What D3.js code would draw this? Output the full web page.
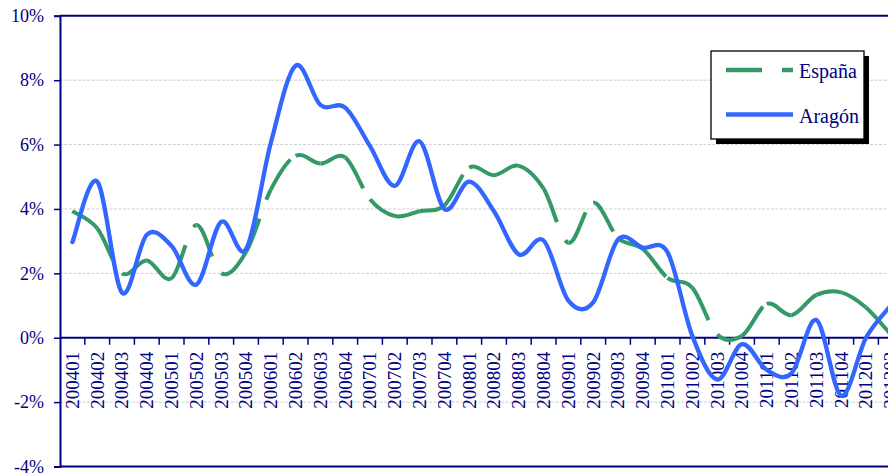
<!DOCTYPE html>
<html>
<head>
<meta charset="utf-8">
<script src="https://cdn.jsdelivr.net/npm/d3@7/dist/d3.min.js"></script>
<style>
  html, body { margin: 0; padding: 0; background: #fff; }
  svg { display: block; }
  text { font-family: "Liberation Serif", "Times New Roman", serif; fill: #000080; }
</style>
</head>
<body>
<svg id="chart" width="888" height="474"></svg>
<script>
// Quarterly periods (yyyyqq)
const periods = [
  "200401","200402","200403","200404",
  "200501","200502","200503","200504",
  "200601","200602","200603","200604",
  "200701","200702","200703","200704",
  "200801","200802","200803","200804",
  "200901","200902","200903","200904",
  "201001","201002","201003","201004",
  "201101","201102","201103","201104",
  "201201","201202"
];

// Year-on-year rates, %
const espana = [
  3.93, 3.4, 2.0, 2.4, 1.85, 3.5, 2.0, 2.66,
  4.6, 5.65, 5.41, 5.6, 4.3, 3.78, 3.93, 4.11,
  5.28, 5.05, 5.34, 4.63, 2.95, 4.2, 3.1, 2.76,
  1.86, 1.55, 0.1, 0.06, 1.05, 0.7, 1.33, 1.41,
  0.94, 0.1
];
const aragon = [
  2.97, 4.85, 1.4, 3.2, 2.85, 1.65, 3.6, 2.75,
  6.05, 8.45, 7.23, 7.15, 5.95, 4.72, 6.1, 4.0,
  4.85, 3.93, 2.59, 3.02, 1.15, 1.1, 3.05, 2.8,
  2.65, 0.05, -1.3, -0.2, -1.0, -1.1, 0.55, -1.8,
  0.0, 1.0
];

const yTicks = [-4, -2, 0, 2, 4, 6, 8, 10];
const gridTicks = [-2, 2, 4, 6, 8];

const seriesNames = ["España", "Aragón"];
const seriesColors = ["#339966", "#3366ff"];

const svg = d3.select("#chart");

const plotLeft = 60, plotTop = 15.8, plotBottom = 466.5;
const band = 24.8;
const plotRight = plotLeft + band * periods.length;

const x = d3.scaleBand().domain(periods).range([plotLeft, plotRight]).paddingInner(0).paddingOuter(0);
const y = d3.scaleLinear().domain([-4, 10]).range([plotBottom, plotTop]);
const cx = p => x(p) + x.bandwidth() / 2;

const navy = "#000080";

// horizontal gridlines
svg.append("g")
  .selectAll("line")
  .data(gridTicks)
  .join("line")
  .attr("x1", plotLeft).attr("x2", plotRight)
  .attr("y1", d => y(d)).attr("y2", d => y(d))
  .attr("stroke", "#cfcfcf")
  .attr("stroke-width", 1)
  .attr("stroke-dasharray", "3,1.5");

// frame top and bottom
svg.append("line").attr("x1", plotLeft).attr("x2", plotRight)
  .attr("y1", y(10)).attr("y2", y(10)).attr("stroke", navy).attr("stroke-width", 2);
svg.append("line").attr("x1", plotLeft).attr("x2", plotRight)
  .attr("y1", y(-4)).attr("y2", y(-4)).attr("stroke", navy).attr("stroke-width", 2);

// y axis
const yAxis = d3.axisLeft(y)
  .tickValues(yTicks)
  .tickSize(6)
  .tickPadding(10)
  .tickFormat(d => d + "%");
const gy = svg.append("g").attr("transform", `translate(${plotLeft},0)`).call(yAxis);
gy.select(".domain").attr("stroke", navy).attr("stroke-width", 2);
gy.selectAll(".tick line").attr("stroke", navy).attr("stroke-width", 1.5);
gy.selectAll(".tick text")
  .attr("fill", navy)
  .style("font-size", "18px")
  .style("font-family", "'Liberation Serif', serif");

// x axis along the zero line
const xAxis = d3.axisBottom(x).tickSize(0).tickPadding(0);
const gx = svg.append("g").attr("transform", `translate(0,${y(0)})`).call(xAxis);
gx.select(".domain").remove();
gx.selectAll(".tick text")
  .attr("fill", navy)
  .attr("transform", "rotate(-90)")
  .attr("text-anchor", "end")
  .attr("x", -14)
  .attr("y", 0)
  .attr("dy", "0.34em")
  .style("font-size", "19px")
  .style("font-family", "'Liberation Serif', serif");

svg.append("line").attr("x1", plotLeft).attr("x2", plotRight)
  .attr("y1", y(0)).attr("y2", y(0)).attr("stroke", navy).attr("stroke-width", 2);

// category boundary ticks
const bounds = periods.map(p => x(p)).concat([plotRight]).slice(1);
svg.append("g")
  .selectAll("line")
  .data(bounds)
  .join("line")
  .attr("x1", d => d).attr("x2", d => d)
  .attr("y1", y(0)).attr("y2", y(0) + 7)
  .attr("stroke", navy).attr("stroke-width", 1.5);

// smoothed segments (uniform Catmull-Rom), one path per interval
function segments(values) {
  const pts = values.map((v, i) => [cx(periods[i]), y(v)]);
  const n = pts.length;
  const out = [];
  for (let i = 0; i < n - 1; i++) {
    const p0 = pts[Math.max(i - 1, 0)];
    const p1 = pts[i];
    const p2 = pts[i + 1];
    const p3 = pts[Math.min(i + 2, n - 1)];
    const c1 = [p1[0] + (p2[0] - p0[0]) / 6, p1[1] + (p2[1] - p0[1]) / 6];
    const c2 = [p2[0] - (p3[0] - p1[0]) / 6, p2[1] - (p3[1] - p1[1]) / 6];
    const path = d3.path();
    path.moveTo(p1[0], p1[1]);
    path.bezierCurveTo(c1[0], c1[1], c2[0], c2[1], p2[0], p2[1]);
    out.push(path.toString());
  }
  return out;
}

const plot = svg.append("g");

// España: long-dash pattern restarting at each data point
plot.append("g")
  .selectAll("path")
  .data(segments(espana))
  .join("path")
  .attr("d", d => d)
  .attr("fill", "none")
  .attr("stroke", seriesColors[0])
  .attr("stroke-width", 4)
  .attr("stroke-dasharray", "36,20")
  .attr("stroke-linecap", "butt");

// Aragón: solid
plot.append("path")
  .attr("d", segments(aragon).join(" "))
  .attr("fill", "none")
  .attr("stroke", seriesColors[1])
  .attr("stroke-width", 4.3)
  .attr("stroke-linecap", "round")
  .attr("stroke-linejoin", "round");

// legend
const lg = svg.append("g");
lg.append("rect").attr("x", 716).attr("y", 56).attr("width", 153).attr("height", 88).attr("fill", "#000");
lg.append("rect").attr("x", 711).attr("y", 51).attr("width", 153).attr("height", 88)
  .attr("fill", "#fff").attr("stroke", "#000").attr("stroke-width", 1.3);

const legendRows = [
  { name: seriesNames[0], color: seriesColors[0], dash: "36,20", ly: 70 },
  { name: seriesNames[1], color: seriesColors[1], dash: null, ly: 114.5 }
];
legendRows.forEach(r => {
  lg.append("line")
    .attr("x1", 726).attr("x2", 793).attr("y1", r.ly).attr("y2", r.ly)
    .attr("stroke", r.color).attr("stroke-width", 4.3)
    .attr("stroke-dasharray", r.dash);
  lg.append("text")
    .attr("x", 799).attr("y", r.ly + 8)
    .style("font-size", "20px")
    .text(r.name);
});
</script>
</body>
</html>
